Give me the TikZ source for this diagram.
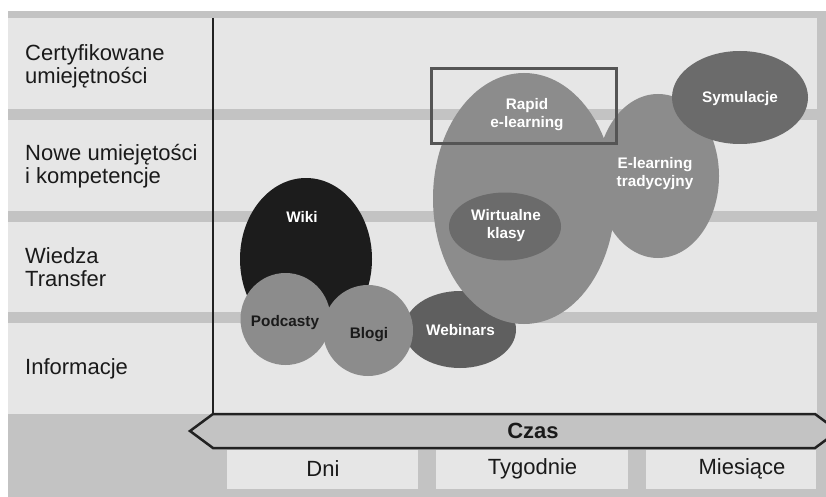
\documentclass[tikz,border=0pt]{standalone}
\usepackage{fontspec}
\setmainfont{Liberation Sans}
\usetikzlibrary{shapes.geometric}
\definecolor{band}{HTML}{E6E6E6}
\definecolor{sepg}{HTML}{C3C3C3}
\definecolor{ink}{HTML}{1A1A1A}
\definecolor{midg}{HTML}{8C8C8C}
\definecolor{darkg}{HTML}{6B6B6B}
\definecolor{webg}{HTML}{5F5F5F}
\definecolor{wikig}{HTML}{1C1C1C}
\definecolor{frameg}{HTML}{555555}
\definecolor{axisg}{HTML}{222222}
\tikzset{
  rowlabel/.style={anchor=west, align=left, inner sep=0pt, text=ink, font=\fontsize{22}{23}\selectfont},
  celltext/.style={inner sep=0pt, text=ink, font=\fontsize{22}{23}\selectfont},
  blob/.style={ellipse, draw=none, inner sep=0pt},
  bloblabel/.style={align=center, inner sep=0pt, text=white, font=\bfseries\fontsize{15.3}{18}\selectfont},
  darklabel/.style={bloblabel, text=ink},
  bandbox/.style={fill=band, draw=none},
  cellbox/.style={fill=band, draw=none, inner sep=0pt, minimum height=39pt},
}
\begin{document}
\begin{tikzpicture}[x=1pt,y=-1pt]
\useasboundingbox (0,0) rectangle (826,497);
\fill[white] (0,0) rectangle (826,497);
\fill[sepg] (8,11) rectangle (826,497);
% bands
\fill[bandbox] (8,18) rectangle (817,109);
\fill[bandbox] (8,120) rectangle (817,211);
\fill[bandbox] (8,222) rectangle (817,312);
\fill[bandbox] (8,323) rectangle (817,414);
% row labels
\node[rowlabel] (r1) at (25,66) {Certyfikowane\\umiejętności};
\node[rowlabel] (r2) at (25,166.5) {Nowe umiejętości\\i kompetencje};
\node[rowlabel] (r3) at (25,267.5) {Wiedza\\Transfer};
\node[rowlabel] (r4) at (25,369) {Informacje};
% axis
\coordinate (axtop) at (213,18);
\coordinate (axbot) at (213,414);
\draw[axisg, line width=2.5pt] (axtop) -- (axbot);
\begin{scope}
\clip (0,0) rectangle (826,497);
\draw[axisg, fill=sepg, line width=2.5pt, line join=miter]
  (213,414) -- (815,414) -- (838,431) -- (815,448) -- (213,448) -- (190,431) -- cycle;
\end{scope}
\node[font=\bfseries\fontsize{22}{23}\selectfont, text=ink, inner sep=0pt] (czas) at (533,431) {Czas};
% bottom cells
\node[cellbox, minimum width=191pt] (dnibox) at (322.5,469.5) {};
\node[cellbox, minimum width=192pt] (tygbox) at (532,469.5) {};
\node[cellbox, minimum width=170pt] (miebox) at (731,469.5) {};
\node[celltext] (dni) at (323,469) {Dni};
\node[celltext] (tyg) at (532.5,469) {Tygodnie};
\node[celltext] (mie) at (742,469) {Miesiące};
% blobs
\node[blob, fill=wikig, minimum width=132pt, minimum height=162pt] (wiki) at (306,259) {};
\node[blob, fill=webg, minimum width=112pt, minimum height=77pt] (webinars) at (460,329.5) {};
\node[blob, fill=midg, minimum width=90pt, minimum height=92pt] (podcasty) at (285.5,319) {};
\node[blob, fill=midg, minimum width=90pt, minimum height=91pt] (blogi) at (368,330.5) {};
\node[blob, fill=midg, minimum width=122pt, minimum height=164pt] (elearn) at (658,176) {};
\node[blob, fill=midg, minimum width=182pt, minimum height=251pt] (rapid) at (524,198.5) {};
\node[blob, fill=darkg, minimum width=112pt, minimum height=68pt] (wirt) at (505,226.5) {};
\node[blob, fill=darkg, minimum width=136pt, minimum height=93pt] (sym) at (740,97.5) {};
\draw[frameg, line width=3pt] (431,69) rectangle (616,144);
% blob labels
\node[bloblabel] (wikit) at (302,217) {Wiki};
\node[bloblabel] (webt) at (460.5,330) {Webinars};
\node[darklabel] (podt) at (285,323) {Podcasty};
\node[darklabel] (blogt) at (369,335) {Blogi};
\node[bloblabel] (elt) at (655,174) {E-learning\\tradycyjny};
\node[bloblabel] (rapt) at (527,115) {Rapid\\e-learning};
\node[bloblabel] (wirtt) at (506,226) {Wirtualne\\klasy};
\node[bloblabel] (symt) at (740,99) {Symulacje};
\end{tikzpicture}
\end{document}
